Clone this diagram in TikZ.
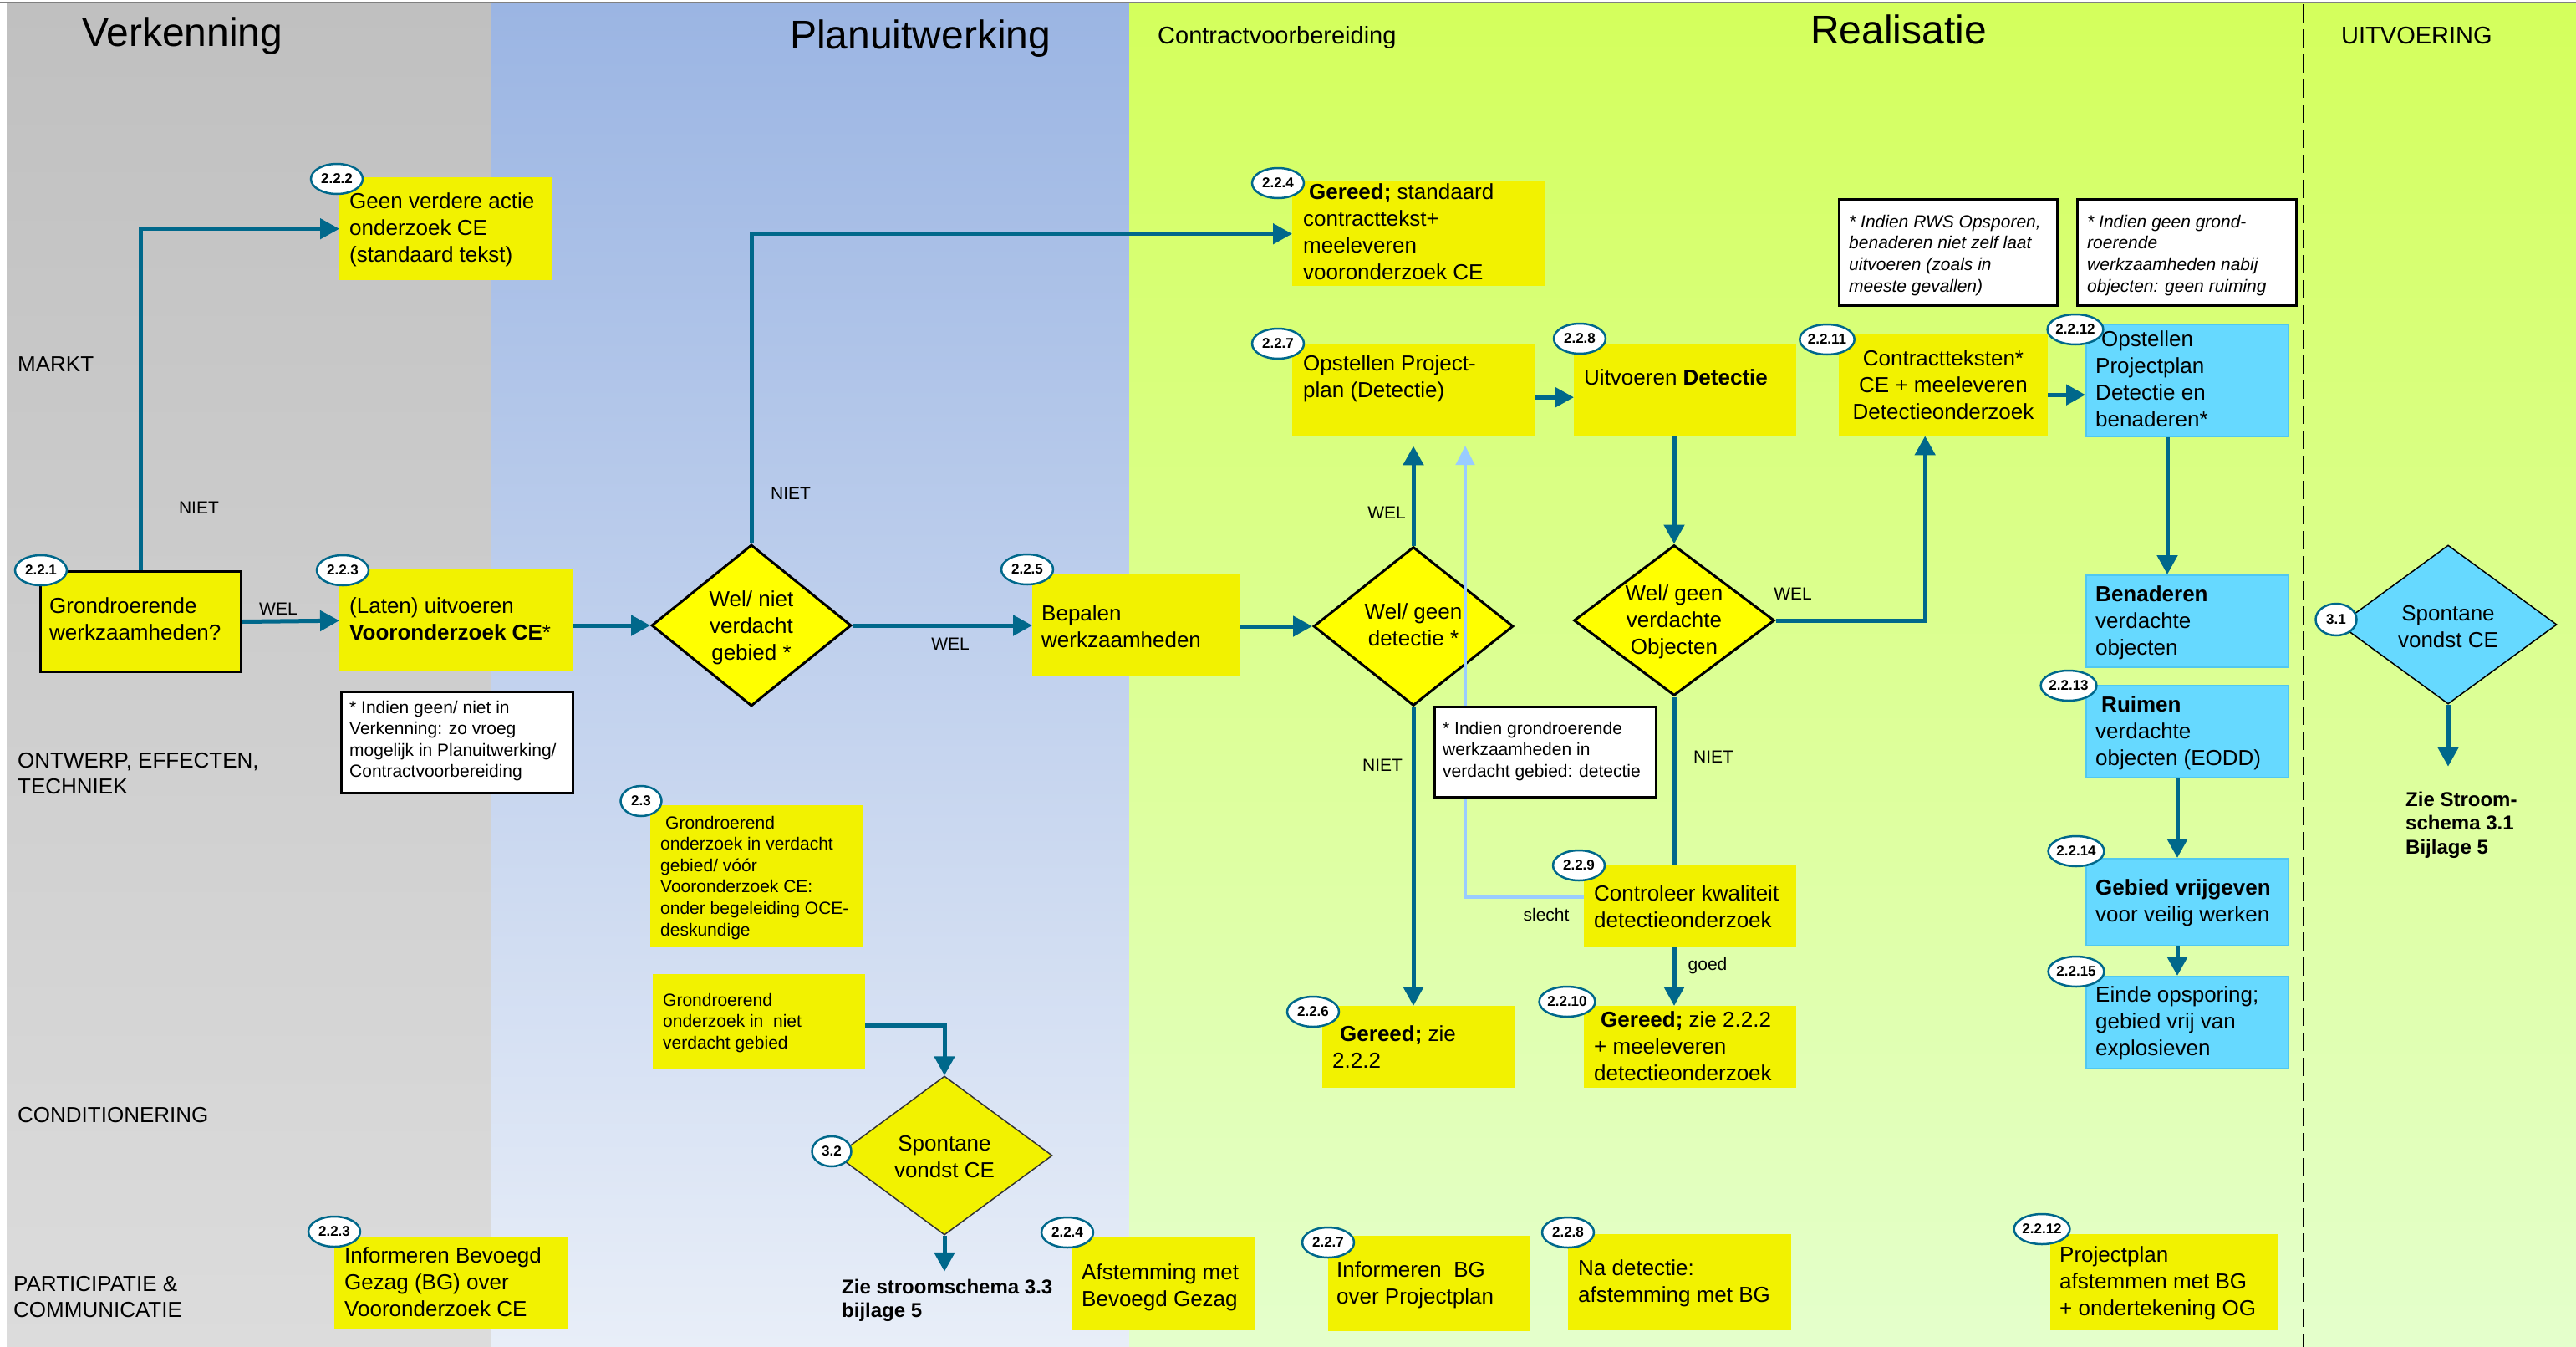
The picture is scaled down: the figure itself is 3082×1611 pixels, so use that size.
\documentclass[tikz,border=0pt]{standalone}
\usepackage{fontspec}
\setmainfont{Liberation Sans}
\usetikzlibrary{arrows.meta,shapes.geometric,calc}
\definecolor{tealc}{RGB}{0,104,139}
\definecolor{lblue}{RGB}{153,204,255}
\definecolor{boxy}{RGB}{242,242,0}
\definecolor{diay}{RGB}{255,255,0}
\definecolor{cyanb}{RGB}{102,217,255}
\definecolor{cyanl}{RGB}{80,200,240}
\definecolor{grayT}{RGB}{192,192,192}
\definecolor{grayB}{RGB}{220,220,220}
\definecolor{blueT}{RGB}{155,181,227}
\definecolor{blueB}{RGB}{232,238,248}
\definecolor{greenT}{RGB}{212,255,92}
\definecolor{greenB}{RGB}{228,255,204}
\newcommand\ptl[2][300pt]{\parbox[t]{#1}{\parindent=0pt\raggedright #2}}
\newcommand\ptc[2][300pt]{\parbox[t]{#1}{\parindent=0pt\centering #2}}
\begin{document}
\begin{tikzpicture}[x=1pt,y=-1pt,
  ybox/.style={rectangle,fill=boxy,draw=none,inner sep=0,anchor=north west},
  cbox/.style={rectangle,fill=cyanb,draw=cyanl,line width=2pt,inner sep=0,anchor=north west},
  nbox/.style={rectangle,fill=white,draw=black,line width=3pt,inner sep=0,anchor=north west},
  dia/.style={diamond,fill=diay,draw=black,line width=3pt,inner sep=0},
  badge/.style={ellipse,fill=white,draw=tealc,line width=2.5pt,inner sep=0,minimum width=62pt,minimum height=36pt,font=\bfseries\fontsize{17}{17}\selectfont},
  tb/.style={inner sep=0,anchor=base west,font=\fontsize{26}{32}\selectfont},
  tc/.style={inner sep=0,anchor=base,font=\fontsize{26}{32}\selectfont},
  ts/.style={inner sep=0,anchor=base west,font=\fontsize{21}{25.6}\selectfont},
  tl/.style={inner sep=0,font=\fontsize{21}{25}\selectfont},
  lane/.style={inner sep=0,anchor=base west,font=\fontsize{26}{31}\selectfont},
  ttl/.style={inner sep=0,anchor=base west,font=\fontsize{48}{52}\selectfont},
  tts/.style={inner sep=0,anchor=base west,font=\fontsize{29}{32}\selectfont},
  zie/.style={inner sep=0,anchor=base west,font=\bfseries\fontsize{24}{28.5}\selectfont},
  conn/.style={draw=tealc,line width=5pt,-{Triangle[length=23pt,width=24pt]}},
  connp/.style={draw=tealc,line width=5pt},
  lconn/.style={draw=lblue,line width=4.5pt,-{Triangle[length=23pt,width=22pt]}}]
\useasboundingbox (0,0) rectangle (3082,1611);
% backgrounds
\fill[white] (0,0) rectangle (3082,1611);
\shade[top color=grayT,bottom color=grayB] (8,5) rectangle (587,1611);
\shade[top color=blueT,bottom color=blueB] (587,5) rectangle (1351,1611);
\shade[top color=greenT,bottom color=greenB] (1351,5) rectangle (3082,1611);
\draw[gray,line width=2pt] (0,3.5) -- (3082,3.5);
\draw[black,line width=2pt,dash pattern=on 22pt off 8pt] (2756,5) -- (2756,1611);
% titles
\node[ttl] (tVerk) at (98,56) {Verkenning};
\node[ttl] (tPlan) at (945,59) {Planuitwerking};
\node[ttl] (tReal) at (2166,53) {Realisatie};
\node[tts] (tCont) at (1385,53) {Contractvoorbereiding};
\node[tts] (tUitv) at (2801,53) {UITVOERING};
% lanes
\node[lane] (lMarkt) at (21,444) {MARKT};
\node[lane] (lOntw) at (21,918) {\ptl{ONTWERP, EFFECTEN,\\TECHNIEK}};
\node[lane] (lCond) at (21,1342) {CONDITIONERING};
\node[lane] (lPart) at (16,1544) {\ptl{PARTICIPATIE \&\\COMMUNICATIE}};
% boxes
\node[ybox,draw=black,line width=3pt,minimum width=240pt,minimum height=120pt] (b221) at (47,682) {};
\node[ybox,minimum width=255pt,minimum height=123pt] (b222) at (406,212) {};
\node[ybox,minimum width=279pt,minimum height=122pt] (b223) at (406,681) {};
\node[ybox,minimum width=303pt,minimum height=125pt] (b224) at (1546,217) {};
\node[ybox,minimum width=248pt,minimum height=121pt] (b225) at (1235,687) {};
\node[ybox,minimum width=291pt,minimum height=110pt] (b227) at (1546,411) {};
\node[ybox,minimum width=266pt,minimum height=109pt] (b228) at (1883,412) {};
\node[ybox,minimum width=250pt,minimum height=122pt] (b2211) at (2200,399) {};
\node[cbox,minimum width=242pt,minimum height=134pt] (b2212) at (2495,387) {};
\node[cbox,minimum width=242pt,minimum height=110pt] (bBen) at (2495,687) {};
\node[cbox,minimum width=242pt,minimum height=110pt] (b2213) at (2495,819) {};
\node[cbox,minimum width=242pt,minimum height=104pt] (b2214) at (2495,1026) {};
\node[cbox,minimum width=242pt,minimum height=110pt] (b2215) at (2495,1167) {};
\node[ybox,minimum width=255pt,minimum height=170pt] (b23) at (778,963) {};
\node[ybox,minimum width=254pt,minimum height=114pt] (bGNV) at (781,1165) {};
\node[ybox,minimum width=254pt,minimum height=98pt] (b229) at (1895,1035) {};
\node[ybox,minimum width=254pt,minimum height=98pt] (b2210) at (1895,1203) {};
\node[ybox,minimum width=231pt,minimum height=98pt] (b226) at (1582,1203) {};
\node[ybox,minimum width=279pt,minimum height=110pt] (bB223) at (400,1480) {};
\node[ybox,minimum width=219pt,minimum height=111pt] (bB224) at (1282,1480) {};
\node[ybox,minimum width=242pt,minimum height=114pt] (bB227) at (1589,1478) {};
\node[ybox,minimum width=267pt,minimum height=115pt] (bB228) at (1876,1476) {};
\node[ybox,minimum width=273pt,minimum height=115pt] (bB2212) at (2453,1476) {};
\node[nbox,minimum width=277pt,minimum height=121pt] (n1) at (407,826) {};
\node[nbox,minimum width=261pt,minimum height=127pt] (n2) at (2199,237) {};
\node[nbox,minimum width=262pt,minimum height=127pt] (n3) at (2484,237) {};
% diamonds
\node[dia,minimum width=239pt,minimum height=193pt] (d1) at (899,748) {};
\node[dia,minimum width=239pt,minimum height=190pt] (d2) at (1691,749) {};
\node[dia,minimum width=240pt,minimum height=180pt] (d3) at (2003,742) {};
\node[diamond,fill=cyanb,draw=black,line width=1.5pt,inner sep=0,minimum width=260pt,minimum height=190pt] (d31) at (2929,747) {};
\node[diamond,fill=boxy,draw=black!80,line width=1.5pt,inner sep=0,minimum width=258pt,minimum height=190pt] (d32) at (1130,1382) {};
% text nodes for Zie
\node[zie] (z31) at (2878,964) {\ptl{Zie Stroom-\\schema 3.1\\Bijlage 5}};
\node[zie] (z32) at (1007,1547) {\ptl{Zie stroomschema 3.3\\bijlage 5}};
% connectors
\draw[conn] (b221.north) |- (b222.west);
\draw[conn] (b221.east) -- (b223.west);
\draw[conn] (b223.east |- d1.west) -- (d1.west);
\draw[conn] (d1.north) |- (b224.west);
\draw[conn] (d1.east) -- (d1.east -| b225.west);
\draw[conn] (b225.east |- d2.west) -- (d2.west);
\draw[conn] (d2.north) -- ([yshift=-12pt]d2.north |- b227.south);
\draw[conn] (d2.south) -- (d2.south |- b226.north);
\draw[conn] ([yshift=-9pt]b227.east) -- ([yshift=-9pt]b227.east -| b228.west);
\draw[conn] (b228.south -| d3.north) -- (d3.north);
\draw[conn] (d3.east) -| ([xshift=-22pt]b2211.south);
\draw[connp] (d3.south) -- (d3.south |- b229.north);
\draw[conn] (d3.south |- b229.south) -- (d3.south |- b2210.north);
\draw[conn] ([yshift=-12pt]b2211.east) -- ([yshift=-12pt]b2211.east -| b2212.west);
\draw[conn] ([xshift=-24pt]b2212.south) -- ([xshift=-24pt]bBen.north);
\draw[conn] ([xshift=-12pt]b2213.south) -- ([xshift=-12pt]b2214.north);
\draw[conn] ([xshift=-12pt]b2214.south) -- ([xshift=-12pt]b2215.north);
\draw[conn] (d31.south) -- ++(0,74);
\draw[conn] ([yshift=-4pt]bGNV.east) -| (d32.north);
\draw[conn] (d32.south) -- ++(0,43);
\coordinate (lbt) at (1753,533);
\draw[lconn] ([yshift=11pt]b229.west) -| (lbt);
\node[nbox,minimum width=265pt,minimum height=108pt] (n4) at (1715,844) {};
% connector labels
\node[tl] (lN1) at (238,607) {NIET};
\node[tl] (lW1) at (333,728) {WEL};
\node[tl] (lN2) at (946,590) {NIET};
\node[tl] (lW2) at (1137,770) {WEL};
\node[tl] (lW3) at (1659,613) {WEL};
\node[tl] (lN3) at (1654,915) {NIET};
\node[tl] (lW4) at (2145,710) {WEL};
\node[tl] (lN4) at (2050,905) {NIET};
\node[tl] (lSl) at (1850,1094) {slecht};
\node[tl] (lGo) at (2043,1155) {goed};
% texts
\node[tb] (t221) at (59,733) {\ptl{Grondroerende\\werkzaamheden?}};
\node[tb] (t222) at (418,249) {\ptl{Geen verdere actie\\onderzoek CE\\(standaard tekst)}};
\node[tb] (t223) at (418,733) {\ptl{(Laten) uitvoeren\\\textbf{Vooronderzoek CE}*}};
\node[tb] (t224) at (1559,238) {\ptl{\hspace*{7pt}\textbf{Gereed;} standaard\\contracttekst+\\meeleveren\\vooronderzoek CE}};
\node[tb] (t225) at (1246,742) {\ptl{Bepalen\\werkzaamheden}};
\node[tc] (td1) at (899,725) {\ptc{Wel/ niet\\verdacht\\gebied *}};
\node[tc] (td2) at (1691,740) {\ptc{Wel/ geen\\detectie *}};
\node[tb] (t227) at (1559,443) {\ptl{Opstellen Project-\\plan (Detectie)}};
\node[tb] (t228) at (1895,460) {Uitvoeren \textbf{Detectie}};
\node[tc] (td3) at (2003,718) {\ptc{Wel/ geen\\verdachte\\Objecten}};
\node[tc] (t2211) at (2325,437) {\ptc{Contractteksten*\\CE + meeleveren\\Detectieonderzoek}};
\node[tb] (t2212) at (2507,414) {\ptl{\hspace*{7pt}Opstellen\\Projectplan\\Detectie en\\benaderen*}};
\node[tb] (tBen) at (2507,719) {\ptl{\textbf{Benaderen}\\verdachte\\objecten}};
\node[tb] (t2213) at (2507,851) {\ptl{\hspace*{7pt}\textbf{Ruimen}\\verdachte\\objecten (EODD)}};
\node[tb] (t2214) at (2507,1070) {\ptl{\textbf{Gebied vrijgeven}\\voor veilig werken}};
\node[tb] (t2215) at (2507,1198) {\ptl{Einde opsporing;\\gebied vrij van\\explosieven}};
\node[tc] (td31) at (2929,742) {\ptc{Spontane\\vondst CE}};
\node[tc] (td32) at (1130,1376) {\ptc{Spontane\\vondst CE}};
\node[ts] (tn1) at (418,853) {\ptl{* Indien geen/ niet in\\Verkenning: zo vroeg\\mogelijk in Planuitwerking/\\Contractvoorbereiding}};
\node[ts] (t23) at (790,991) {\ptl{\hspace*{6pt}Grondroerend\\onderzoek in verdacht\\gebied/ vóór\\Vooronderzoek CE:\\onder begeleiding OCE-\\deskundige}};
\node[ts] (tGNV) at (793,1203) {\ptl{Grondroerend\\onderzoek in\ \ niet\\verdacht gebied}};
\node[ts,font=\itshape\fontsize{21}{25.8}\selectfont] (tn2) at (2212,272) {\ptl{* Indien RWS Opsporen,\\benaderen niet zelf laat\\uitvoeren (zoals in\\meeste gevallen)}};
\node[ts,font=\itshape\fontsize{21}{25.8}\selectfont] (tn3) at (2497,272) {\ptl{* Indien geen grond-\\roerende\\werkzaamheden nabij\\objecten: geen ruiming}};
\node[ts] (tn4) at (1726,878) {\ptl{* Indien grondroerende\\werkzaamheden in\\verdacht gebied: detectie}};
\node[tb] (t229) at (1907,1077) {\ptl{Controleer kwaliteit\\detectieonderzoek}};
\node[tb] (t2210) at (1907,1228) {\ptl{\hspace*{8pt}\textbf{Gereed;} zie 2.2.2\\+ meeleveren\\detectieonderzoek}};
\node[tb] (t226) at (1594,1245) {\ptl{\hspace*{9pt}\textbf{Gereed;} zie\\2.2.2}};
\node[tb] (tB223) at (412,1510) {\ptl{Informeren Bevoegd\\Gezag (BG) over\\Vooronderzoek CE}};
\node[tb] (tB224) at (1294,1530) {\ptl{Afstemming met\\Bevoegd Gezag}};
\node[tb] (tB227) at (1599,1527) {\ptl{Informeren\ \ BG\\over Projectplan}};
\node[tb] (tB228) at (1888,1525) {\ptl{Na detectie:\\afstemming met BG}};
\node[tb] (tB2212) at (2464,1509) {\ptl{Projectplan\\afstemmen met BG\\+ ondertekening OG}};
% badges
\node[badge] (k221) at (49,682) {2.2.1};
\node[badge] (k222) at (403,214) {2.2.2};
\node[badge] (k223) at (410,682) {2.2.3};
\node[badge] (k225) at (1229,681) {2.2.5};
\node[badge] (k224) at (1529,219) {2.2.4};
\node[badge] (k227) at (1529,411) {2.2.7};
\node[badge] (k228) at (1890,405) {2.2.8};
\node[badge,minimum width=65pt] (k2211) at (2186,406) {2.2.11};
\node[badge,minimum width=65pt] (k2212) at (2483,394) {2.2.12};
\node[badge,minimum width=65pt] (k2213) at (2475,820) {2.2.13};
\node[badge,minimum width=65pt] (k2214) at (2484,1018) {2.2.14};
\node[badge,minimum width=65pt] (k2215) at (2484,1162) {2.2.15};
\node[badge,minimum width=49pt,minimum height=38pt] (k31) at (2795,741) {3.1};
\node[badge,minimum width=49pt] (k23) at (767,958) {2.3};
\node[badge,minimum width=47pt] (k32) at (995,1377) {3.2};
\node[badge] (k226) at (1571,1210) {2.2.6};
\node[badge] (k229) at (1889,1035) {2.2.9};
\node[badge,minimum width=65pt] (k2210) at (1875,1198) {2.2.10};
\node[badge] (kB223) at (400,1473) {2.2.3};
\node[badge] (kB224) at (1277,1474) {2.2.4};
\node[badge] (kB227) at (1589,1486) {2.2.7};
\node[badge] (kB228) at (1876,1474) {2.2.8};
\node[badge,minimum width=65pt] (kB2212) at (2443,1470) {2.2.12};
\end{tikzpicture}
\end{document}
